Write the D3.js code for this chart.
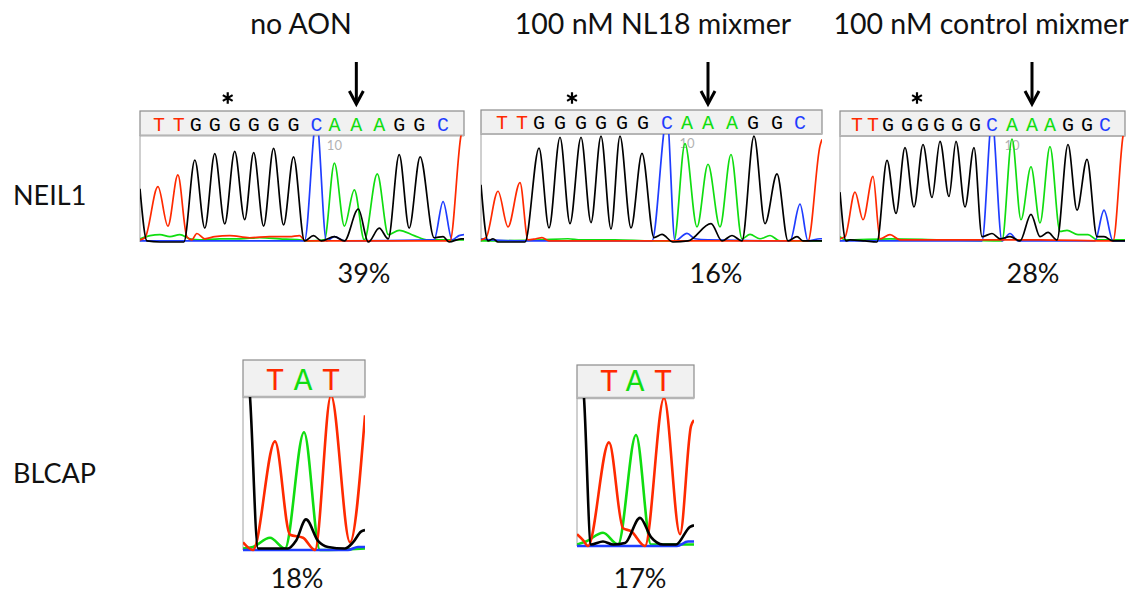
<!DOCTYPE html>
<html>
<meta charset="utf-8">
<style>
  body { margin: 0; padding: 0; background: #fff; }
  text { font-family: Lato, "Open Sans", sans-serif; }
  .label { font-size: 27px; fill: #111; }
  .title { font-size: 28.5px; fill: #111; }
  .base { font-family: "Liberation Mono", monospace; }
  .trace { fill: none; stroke-linejoin: round; }
</style>
<body>
<div id="chart"></div>
<script src="https://d3js.org/d3.v7.min.js"></script>
<script>

// ---- data (scan position, signal 0-100) ----
var neilTitles = ["no AON", "100 nM NL18 mixmer", "100 nM control mixmer"];
var neilPct = ["39%", "16%", "28%"];
var blcapPct = ["18%", "17%"];
var rowLabels = ["NEIL1", "BLCAP"];
var neilBases = ["T","T","G","G","G","G","G","G","C","A","A","A","G","G","C"];
var blcapBases = ["T","A","T"];

// no AON
var noAonCalls = [19,39,56,75,95,114,134,154,177,195,217,240,260,280,304];
var noAonG = [[0,50],[7,1],[20,0],[44,0],[55,77],[65,13],[75,83],[85,17],[95,85],[105,21],[114,84],[124,15],[134,88],[144,16],[154,80],[165,1],[174,6],[182,1],[195,5],[205,1],[219,31],[229,0],[240,13],[249,3],[260,82],[270,13],[281,80],[295,4],[304,5],[310,0],[322,3],[325,3]];
var noAonT = [[0,2],[5,4],[18,52],[28,15],[38,63],[47,5],[52,2],[57,8],[65,3],[75,5],[90,6],[110,4],[130,5],[150,5],[160,6],[166,1],[250,1],[311,1],[322,100],[325,110]];
var noAonC = [[0,1],[100,1],[165,1],[177,115],[187,1],[195,5],[205,1],[295,2],[304,38],[313,2],[320,6],[325,7]];
var noAonA = [[0,3],[10,6],[20,7],[30,5],[40,7],[50,3],[60,2],[80,3],[100,3],[120,4],[140,3],[160,2],[170,1],[185,2],[195,74],[205,15],[215,49],[225,2],[238,64],[249,7],[260,11],[275,6],[289,2],[325,2]];

// 100 nM NL18 mixmer
var nl18Calls = [21,41,58,79,100,120,141,162,186,206,227,251,272,296,319];
var nl18G = [[0,53],[7,1],[12,3],[17,0],[44,0],[58,87],[68,13],[79,97],[89,17],[100,97],[110,18],[120,98],[130,12],[139,98],[150,13],[161,82],[173,4],[181,7],[192,0],[207,1],[230,17],[241,1],[251,6],[261,1],[273,98],[284,17],[296,63],[307,1],[316,5],[322,1],[341,1]];
var nl18T = [[0,2],[5,4],[17,47],[27,14],[39,55],[47,2],[55,3],[61,4],[68,1],[150,1],[327,1],[339,89],[341,95]];
var nl18C = [[0,3],[10,2],[40,1],[171,1],[186,115],[194,1],[206,8],[214,3],[227,2],[309,1],[319,35],[327,1],[339,3],[341,3]];
var nl18A = [[0,1],[60,2],[87,3],[100,2],[134,2],[171,1],[193,1],[204,91],[216,14],[227,72],[239,14],[250,81],[261,3],[269,7],[279,3],[289,6],[299,1],[341,1]];

// 100 nM control mixmer
var ctrlCalls = [17,33,48,67,83,99,117,135,152,172,192,210,228,247,265];
var ctrlG = [[0,47],[6,1],[10,2],[25,1],[37,0],[47,77],[56,27],[65,89],[74,33],[83,92],[92,42],[100,95],[109,43],[116,95],[125,33],[134,89],[142,5],[152,8],[160,3],[170,5],[180,1],[191,26],[200,5],[208,9],[217,2],[228,92],[237,30],[247,78],[257,5],[264,5],[273,1],[285,1]];
var ctrlT = [[0,3],[5,5],[15,47],[23,21],[33,62],[40,3],[50,7],[60,2],[100,2],[200,2],[273,1],[283,100],[285,110]];
var ctrlC = [[0,1],[142,1],[152,115],[162,1],[170,8],[178,1],[255,1],[264,30],[273,1],[285,1]];
var ctrlA = [[0,5],[5,2],[50,3],[100,2],[162,1],[172,97],[181,21],[191,71],[200,18],[210,90],[220,10],[227,11],[238,7],[248,7],[257,2],[285,2]];

// BLCAP, no AON
var blcap1Calls = [32,60,88];
var blcap1G = [[0,110],[3,130],[7,100],[15,1],[25,1],[45,1],[53,6],[63,20],[75,6],[85,2],[102,1],[110,5],[118,12],[122,13]];
var blcap1T = [[0,5],[10,0],[32,71],[47,10],[60,8],[72,0],[88,101],[107,5],[122,88]];
var blcap1A = [[0,1],[10,2],[27,8],[42,1],[61,77],[77,0],[122,1]];
var blcap1C = [[0,0],[105,0],[115,2],[122,2]];

// BLCAP, NL18 mixmer
var blcap2Calls = [32,58,86];
var blcap2G = [[0,110],[3,130],[7,100],[14,1],[26,3],[36,1],[48,2],[63,19],[74,6],[86,1],[99,1],[113,13],[117,14]];
var blcap2T = [[0,8],[6,4],[11,0],[32,70],[46,12],[54,10],[68,0],[87,100],[103,8],[114,81],[117,85]];
var blcap2A = [[0,1],[9,3],[26,9],[41,1],[59,75],[74,1],[117,1]];
var blcap2C = [[0,0],[100,0],[111,3],[117,3]];

// ---- layout ----
var W = 1148, H = 597;
var baseColor = {A: "#10dd10", C: "#1f3dff", G: "#000000", T: "#ff2a00"};

var svg = d3.select("#chart").append("svg")
    .attr("width", W)
    .attr("height", H);

var panels = [
  {id: "p1", box: [140, 464, 111, 135.5, 242], scan: 325, bases: neilBases, calls: noAonCalls,
   tr: {A: noAonA, C: noAonC, G: noAonG, T: noAonT}, star: 88, arrow: 10, big: false},
  {id: "p2", box: [481, 822, 110, 134, 242], scan: 341, bases: neilBases, calls: nl18Calls,
   tr: {A: nl18A, C: nl18C, G: nl18G, T: nl18T}, star: 91, arrow: 10, big: false},
  {id: "p3", box: [840, 1125, 111, 136, 242], scan: 285, bases: neilBases, calls: ctrlCalls,
   tr: {A: ctrlA, C: ctrlC, G: ctrlG, T: ctrlT}, star: 77, arrow: 10, big: false},
  {id: "b1", box: [243, 365, 360, 397, 550], scan: 122, bases: blcapBases, calls: blcap1Calls,
   tr: {A: blcap1A, C: blcap1C, G: blcap1G, T: blcap1T}, big: true},
  {id: "b2", box: [577, 694, 365, 398, 546], scan: 117, bases: blcapBases, calls: blcap2Calls,
   tr: {A: blcap2A, C: blcap2C, G: blcap2G, T: blcap2T}, big: true}
];

panels.forEach(function(p) {
  var left = p.box[0], right = p.box[1], top = p.box[2], hb = p.box[3], bottom = p.box[4];

  var x = d3.scaleLinear().domain([0, p.scan]).range([left, right]);
  var y = d3.scaleLinear().domain([0, 100]).range([bottom, hb]);

  // clip for traces
  svg.append("clipPath").attr("id", "clip-" + p.id)
    .append("rect")
      .attr("x", left).attr("y", hb)
      .attr("width", right - left).attr("height", bottom - hb + 2);

  // header strip
  svg.append("rect")
    .attr("x", left).attr("y", top)
    .attr("width", right - left).attr("height", hb - top)
    .attr("fill", "#f1f1f1")
    .attr("stroke", "#8c8c8c")
    .attr("stroke-width", 1.2);
  svg.append("line")
    .attr("x1", left).attr("x2", right)
    .attr("y1", hb).attr("y2", hb)
    .attr("stroke", "#b5b5b5")
    .attr("stroke-width", p.big ? 2.5 : 1.8);
  // left frame
  svg.append("line")
    .attr("x1", left).attr("x2", left)
    .attr("y1", hb).attr("y2", bottom)
    .attr("stroke", "#a0a0a0")
    .attr("stroke-width", 1);

  // base letters
  svg.append("g").selectAll("text")
    .data(p.bases)
    .join("text")
      .attr("class", "base")
      .attr("x", function(d, i) { return x(p.calls[i]); })
      .attr("y", p.big ? hb - 7 : hb - 5)
      .attr("text-anchor", "middle")
      .attr("font-size", p.big ? 31 : 20)
      .attr("fill", function(d) { return baseColor[d]; })
      .text(function(d) { return d; });

  // position label
  if (!p.big) {
    svg.append("text")
      .attr("x", x(p.calls[9]))
      .attr("y", hb + 14)
      .attr("text-anchor", "middle")
      .attr("font-size", 13)
      .attr("fill", "#b3b3b3")
      .text("10");
  }

  // traces
  var line = d3.line()
    .x(function(d) { return x(d[0]); })
    .y(function(d) { return y(d[1]); })
    .curve(d3.curveMonotoneX);

  var g = svg.append("g").attr("clip-path", "url(#clip-" + p.id + ")");
  ["A", "C", "T", "G"].forEach(function(b) {
    g.append("path")
      .datum(p.tr[b])
      .attr("class", "trace")
      .attr("d", line)
      .attr("stroke", baseColor[b])
      .attr("stroke-width", p.big ? 2.6 : 1.7);
  });

  // asterisk and arrow over the edited site
  if (p.star !== undefined) {
    svg.append("path")
      .attr("transform", "translate(" + x(p.star) + ",98)")
      .attr("d", d3.symbol().type(d3.symbolAsterisk).size(90)())
      .attr("fill", "none")
      .attr("stroke", "#000")
      .attr("stroke-width", 2.2);

    var ax = x(p.calls[p.arrow]);
    svg.append("line")
      .attr("x1", ax).attr("x2", ax)
      .attr("y1", 62).attr("y2", 103)
      .attr("stroke", "#000")
      .attr("stroke-width", 3);
    svg.append("path")
      .attr("d", d3.line()([[ax - 7, 91], [ax, 104], [ax + 7, 91]]))
      .attr("fill", "none")
      .attr("stroke", "#000")
      .attr("stroke-width", 3);
  }
});

// titles
var titleX = [301, 653, 981];
svg.append("g").selectAll("text")
  .data(neilTitles)
  .join("text")
    .attr("class", "title")
    .attr("x", function(d, i) { return titleX[i]; })
    .attr("y", 34)
    .attr("text-anchor", "middle")
    .text(function(d) { return d; });

// percentages
var neilPctX = [364, 716, 1033];
svg.append("g").selectAll("text")
  .data(neilPct)
  .join("text")
    .attr("class", "label")
    .attr("x", function(d, i) { return neilPctX[i]; })
    .attr("y", 283)
    .attr("text-anchor", "middle")
    .text(function(d) { return d; });

var blcapPctX = [297, 640];
svg.append("g").selectAll("text")
  .data(blcapPct)
  .join("text")
    .attr("class", "label")
    .attr("x", function(d, i) { return blcapPctX[i]; })
    .attr("y", 588)
    .attr("text-anchor", "middle")
    .text(function(d) { return d; });

// row labels
svg.append("g").selectAll("text")
  .data(rowLabels)
  .join("text")
    .attr("class", "label")
    .attr("x", 13)
    .attr("y", function(d, i) { return i === 0 ? 205 : 483; })
    .text(function(d) { return d; });

</script>
</body>
</html>
